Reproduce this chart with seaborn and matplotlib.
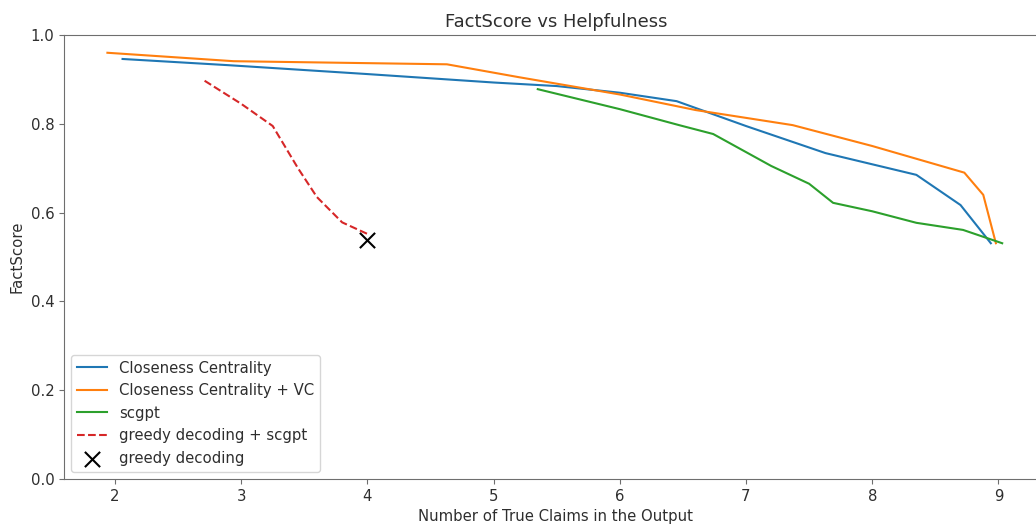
import numpy as np
import pandas as pd
import matplotlib
matplotlib.use('Agg')
import matplotlib.pyplot as plt
import seaborn as sns

# values
cc_x = [2.06, 2.9, 4.0, 5.0, 5.5, 6.0, 6.45, 7.0, 7.63, 8.35, 8.70, 8.94]
cc_y = [0.946, 0.932, 0.912, 0.893, 0.885, 0.870, 0.851, 0.795, 0.734, 0.685, 0.617, 0.531]

ccvc_x = [1.94, 2.94, 4.63, 5.2, 6.0, 6.6, 7.37, 8.0, 8.73, 8.88, 8.98]
ccvc_y = [0.960, 0.941, 0.934, 0.905, 0.866, 0.831, 0.797, 0.750, 0.690, 0.640, 0.531]

scgpt_x = [5.35, 6.0, 6.47, 6.74, 7.2, 7.5, 7.69, 8.0, 8.35, 8.72, 9.03]
scgpt_y = [0.878, 0.833, 0.797, 0.777, 0.705, 0.665, 0.622, 0.603, 0.577, 0.561, 0.531]

gd_scgpt_x = [2.71, 3.0, 3.25, 3.45, 3.6, 3.8, 4.0]
gd_scgpt_y = [0.897, 0.845, 0.795, 0.700, 0.635, 0.578, 0.552]

greedy_x = [4.0]
greedy_y = [0.538]

colors = sns.color_palette("tab10")
plt.rcParams['font.size'] = 10.75
plt.rcParams['axes.titlesize'] = 12.9
# reference is a slightly faded screenshot: grey spines, dark grey text
plt.rcParams['axes.edgecolor'] = '#6e6e6e'
plt.rcParams['xtick.color'] = '#6e6e6e'
plt.rcParams['ytick.color'] = '#6e6e6e'
plt.rcParams['xtick.labelcolor'] = '#2e2e2e'
plt.rcParams['ytick.labelcolor'] = '#2e2e2e'
plt.rcParams['text.color'] = '#2e2e2e'
plt.rcParams['axes.labelcolor'] = '#2e2e2e'

fig = plt.figure(figsize=(10.36, 5.24), dpi=100)
# axes run past the right edge, like the cropped reference
ax = fig.add_axes([64 / 1036, 45 / 524, 984 / 1036, 444 / 524])

sns.lineplot(x=cc_x, y=cc_y, sort=False, estimator=None, color=colors[0],
             label="Closeness Centrality", ax=ax)
sns.lineplot(x=ccvc_x, y=ccvc_y, sort=False, estimator=None, color=colors[1],
             label="Closeness Centrality + VC", ax=ax)
sns.lineplot(x=scgpt_x, y=scgpt_y, sort=False, estimator=None, color=colors[2],
             label="scgpt", ax=ax)
sns.lineplot(x=gd_scgpt_x, y=gd_scgpt_y, sort=False, estimator=None, color=colors[3],
             linestyle="--", label="greedy decoding + scgpt", ax=ax)
sns.scatterplot(x=greedy_x, y=greedy_y, marker="x", color="black", s=120,
                linewidth=1.5, label="greedy decoding", ax=ax, zorder=5)

ax.set_xlim(1.596, 9.393)
ax.set_ylim(0, 1.0)
ax.set_title("FactScore vs Helpfulness")
ax.set_xlabel("Number of True Claims in the Output")
ax.set_ylabel("FactScore")
ax.legend(loc="lower left")

fig.savefig("out.png", dpi=100)
